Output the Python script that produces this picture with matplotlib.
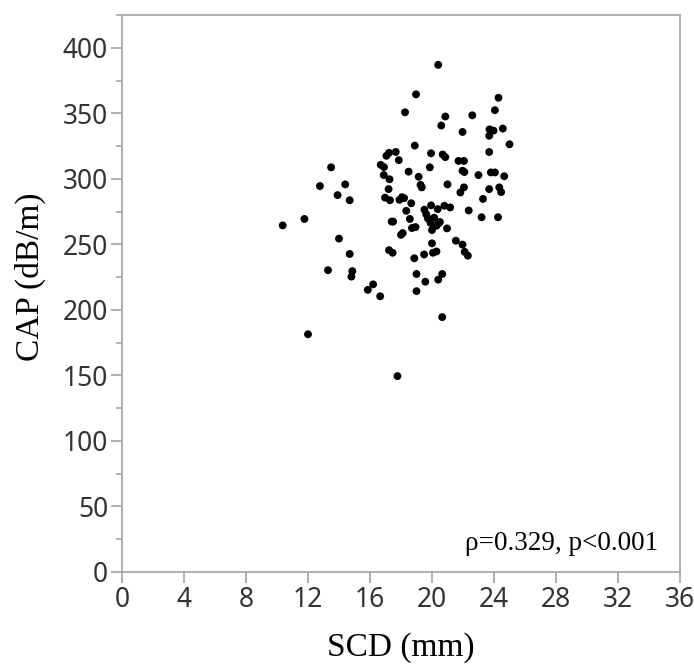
import matplotlib
matplotlib.use("Agg")
import matplotlib.pyplot as plt
from matplotlib.ticker import MultipleLocator

scd = [10.37, 11.77, 12.0, 12.77, 13.49, 13.29, 13.91, 14.0, 14.4, 14.69,
       14.69, 14.86, 14.8, 15.86, 16.2, 16.66, 16.69, 16.9, 16.89, 16.97,
       17.06, 17.23, 17.2, 17.26, 17.29, 17.4, 17.49, 17.23, 17.46, 17.66,
       17.77, 17.86, 17.9, 18.06, 18.2, 18.0, 18.11, 18.26, 18.34, 18.49,
       18.57, 18.66, 18.71, 18.89, 18.97, 18.86, 18.94, 19.0, 19.0, 19.14,
       19.26, 19.34, 19.51, 19.57, 19.49, 19.63, 19.74, 19.86, 19.94, 19.94,
       19.91, 20.0, 20.0, 20.06, 20.14, 20.29, 20.29, 20.4, 20.37, 20.43,
       20.51, 20.4, 20.6, 20.66, 20.66, 20.69, 20.8, 20.86, 20.86, 20.97,
       21.0, 21.17, 21.54, 21.71, 21.83, 21.97, 21.97, 22.06, 22.06, 21.97,
       22.09, 22.11, 22.31, 22.37, 22.6, 23.0, 23.2, 23.29, 23.69, 23.69,
       23.69, 23.71, 23.8, 23.97, 24.06, 24.06, 24.26, 24.29, 24.34, 24.46,
       24.57, 24.66, 25.0]
cap = [264.5, 269.4, 181.4, 294.5, 308.8, 230.3, 287.6, 254.4, 295.8, 283.7,
       242.7, 229.6, 225.4, 215.3, 219.5, 210.4, 310.7, 309.0, 302.9, 285.7,
       317.6, 319.9, 292.2, 299.7, 283.7, 267.4, 267.4, 245.6, 243.6, 320.5,
       149.5, 314.3, 284.0, 286.0, 285.3, 257.3, 258.6, 350.8, 275.6, 305.5,
       269.4, 281.4, 262.5, 325.4, 364.5, 239.4, 263.2, 227.4, 214.3, 301.6,
       295.4, 293.5, 276.5, 221.5, 242.3, 273.0, 269.7, 308.8, 319.5, 279.8,
       266.4, 260.9, 250.8, 243.6, 270.4, 264.2, 244.6, 387.0, 276.9, 266.1,
       267.1, 223.1, 340.7, 227.4, 194.5, 318.6, 279.5, 347.6, 316.6, 262.2,
       295.8, 278.2, 252.8, 313.7, 289.6, 335.8, 306.2, 313.7, 293.5, 249.8,
       305.2, 244.3, 241.4, 275.9, 348.5, 302.9, 270.7, 284.7, 292.2, 320.5,
       332.9, 337.8, 304.9, 336.8, 304.9, 352.4, 270.7, 361.9, 293.5, 289.9,
       338.4, 302.0, 326.4]

x_ticks = [0, 4, 8, 12, 16, 20, 24, 28, 32, 36]
y_ticks = [0, 50, 100, 150, 200, 250, 300, 350, 400]
annotation = "\u03c1=0.329, p<0.001"

fig = plt.figure(figsize=(6.94, 6.69), dpi=100)
ax = fig.add_axes([0.1758, 0.145, 0.804, 0.8325])

ax.scatter(scd, cap, s=32, color="black", edgecolors="none", zorder=3)

ax.set_xlim(0, 36)
ax.set_ylim(0, 425)
ax.set_xticks(x_ticks)
ax.set_yticks(y_ticks)
ax.yaxis.set_minor_locator(MultipleLocator(25))

spine_col = "#aaaaaa"
for s in ax.spines.values():
    s.set_color(spine_col)
    s.set_linewidth(1.3)

ax.tick_params(axis="both", which="major", direction="out", length=8,
               width=1.3, color=spine_col, labelsize=19,
               labelcolor="#333333", pad=2)
ax.tick_params(axis="y", which="minor", direction="out", length=4,
               width=1.3, color=spine_col)
for lab in ax.get_xticklabels() + ax.get_yticklabels():
    lab.set_fontfamily("Noto Sans")

ax.set_xlabel("SCD (mm)", fontsize=24, family="Liberation Serif", va="center")
ax.set_ylabel("CAP (dB/m)", fontsize=24, family="Liberation Serif", va="center")
ax.xaxis.set_label_coords(0.5, -0.136)
ax.yaxis.set_label_coords(-0.165, 0.53)

ax.text(0.9606, 0.052, annotation, transform=ax.transAxes, ha="right",
        va="center", fontsize=19.5, family="Liberation Serif")

fig.savefig("out.png", dpi=100)
